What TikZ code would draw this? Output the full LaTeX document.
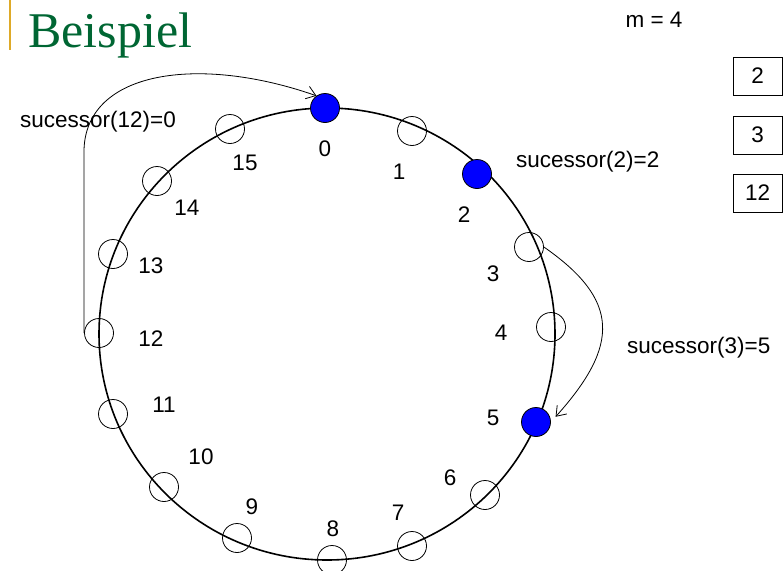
\documentclass[tikz,border=0pt]{standalone}
\usepackage{fontspec}
\setmainfont{Liberation Sans}
\newfontfamily\titlefont{Liberation Serif}
\usetikzlibrary{arrows.meta}
\definecolor{titlegreen}{RGB}{0,102,51}
\definecolor{baryellow}{RGB}{222,170,40}

\begin{document}
\begin{tikzpicture}[
  x=1pt, y=-1pt,
  font=\fontsize{22.5}{27}\selectfont,
  >={Straight Barb[length=9pt, width=13pt]},
  peer/.style={draw, circle, minimum size=29pt, inner sep=0pt, line width=0.8pt},
  active/.style={peer, fill=blue},
  idlabel/.style={inner sep=0pt},
  fingerbox/.style={draw, line width=0.8pt, minimum width=49pt, minimum height=38pt, inner sep=0pt},
  succarrow/.style={->, line width=0.8pt},
]
  \useasboundingbox (0,0) rectangle (783,570);
  \fill[baryellow] (9,0) rectangle (11,50);
  \node[anchor=base west, inner sep=0pt, text=titlegreen,
        font=\titlefont\fontsize{50}{56}\selectfont] (title) at (28,47) {Beispiel};

  % identifier ring, m = 4
  \draw[line width=1.6pt] (327,334) ellipse [x radius=228pt, y radius=226pt];

  \node[active] (n0)  at (325,108) {};
  \node[peer]   (n1)  at (412,131) {};
  \node[active] (n2)  at (477,174) {};
  \node[peer]   (n3)  at (529,247) {};
  \node[peer]   (n4)  at (551,327) {};
  \node[active] (n5)  at (536,422) {};
  \node[peer]   (n6)  at (485,495) {};
  \node[peer]   (n7)  at (412,546) {};
  \node[peer]   (n8)  at (332,560) {};
  \node[peer]   (n9)  at (237,538) {};
  \node[peer]   (n10) at (164,487) {};
  \node[peer]   (n11) at (113,414) {};
  \node[peer]   (n12) at (99,333)  {};
  \node[peer]   (n13) at (113,254) {};
  \node[peer]   (n14) at (157,181) {};
  \node[peer]   (n15) at (230,129) {};

  \node[idlabel] (l0)  at (325,149) {0};
  \node[idlabel] (l1)  at (399,172) {1};
  \node[idlabel] (l2)  at (464,215) {2};
  \node[idlabel] (l3)  at (493,274) {3};
  \node[idlabel] (l4)  at (501,333) {4};
  \node[idlabel] (l5)  at (493,418) {5};
  \node[idlabel] (l6)  at (450,478) {6};
  \node[idlabel] (l7)  at (398,513) {7};
  \node[idlabel] (l8)  at (333,529) {8};
  \node[idlabel] (l9)  at (252,507) {9};
  \node[idlabel] (l10) at (201,457) {10};
  \node[idlabel] (l11) at (164,405) {11};
  \node[idlabel] (l12) at (151,339) {12};
  \node[idlabel] (l13) at (151,266) {13};
  \node[idlabel] (l14) at (187,208) {14};
  \node[idlabel] (l15) at (245,163) {15};

  % finger table entries
  \node[anchor=base] (mval) at (654,27) {m = 4};
  \node[fingerbox] (b2)  at (757.5,76)  {2};
  \node[fingerbox] (b3)  at (757.5,135) {3};
  \node[fingerbox] (b12) at (757.5,193) {12};

  \node[anchor=base west, inner sep=0pt] (s12) at (20,127)  {sucessor(12)=0};
  \node[anchor=base west, inner sep=0pt] (s2)  at (516,167) {sucessor(2)=2};
  \node[anchor=base west, inner sep=0pt] (s3)  at (627,353) {sucessor(3)=5};

  \draw[succarrow] (n12.west) -- (84,150) .. controls (86,70) and (200,55) .. (n0.125);
  \draw[succarrow, shorten >=7pt] (n3.east) .. controls (620,300) and (620,345) .. (n5.east);
\end{tikzpicture}
\end{document}
